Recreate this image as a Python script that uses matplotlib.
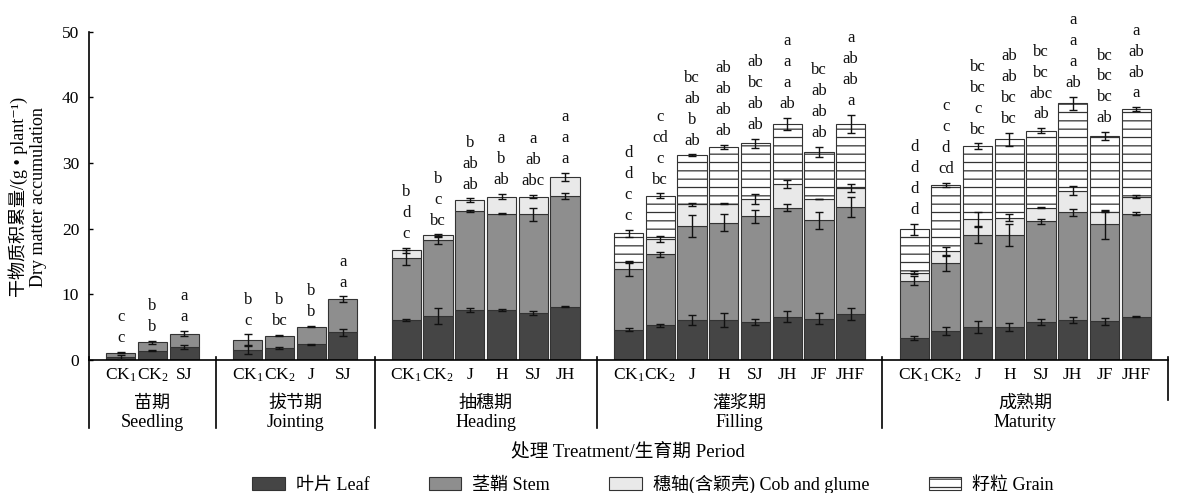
import numpy as np
import matplotlib
matplotlib.use("Agg")
import matplotlib.pyplot as plt
from matplotlib.patches import Patch
import matplotlib.transforms as mtransforms

plt.rcParams['font.family'] = ['Liberation Serif', 'Noto Sans CJK SC', 'DejaVu Sans']
plt.rcParams['mathtext.fontset'] = 'custom'
plt.rcParams['mathtext.rm'] = 'Liberation Serif'
plt.rcParams['mathtext.it'] = 'Liberation Serif:italic'
plt.rcParams['hatch.linewidth'] = 0.9

# ---------------- data ----------------
stage_cn = ['苗期', '拔节期', '抽穗期', '灌浆期', '成熟期']
stage_en = ['Seedling', 'Jointing', 'Heading', 'Filling', 'Maturity']

treat_seedling = ['CK$_1$', 'CK$_2$', 'SJ']
treat_jointing = ['CK$_1$', 'CK$_2$', 'J', 'SJ']
treat_heading = ['CK$_1$', 'CK$_2$', 'J', 'H', 'SJ', 'JH']
treat_filling = ['CK$_1$', 'CK$_2$', 'J', 'H', 'SJ', 'JH', 'JF', 'JHF']
treat_maturity = ['CK$_1$', 'CK$_2$', 'J', 'H', 'SJ', 'JH', 'JF', 'JHF']

# segment values (g/plant): leaf, stem, cob, grain
leaf_seedling = [0.5, 1.4, 2.0]
stem_seedling = [0.6, 1.3, 2.0]
leaf_jointing = [1.5, 1.8, 2.4, 4.2]
stem_jointing = [1.6, 1.9, 2.7, 5.1]
leaf_heading = [6.1, 6.7, 7.6, 7.6, 7.1, 8.1]
stem_heading = [9.5, 11.5, 15.1, 14.7, 15.1, 16.9]
cob_heading = [1.1, 0.8, 1.6, 2.6, 2.7, 2.9]
leaf_filling = [4.6, 5.3, 6.1, 6.1, 5.8, 6.6, 6.3, 7.0]
stem_filling = [9.2, 10.8, 14.3, 14.8, 16.1, 16.6, 15.0, 16.3]
cob_filling = [1.2, 2.3, 3.3, 2.9, 2.6, 3.6, 3.2, 2.9]
grain_filling = [4.3, 6.6, 7.5, 8.7, 8.5, 9.2, 7.2, 9.7]
leaf_maturity = [3.3, 4.4, 5.0, 5.0, 5.8, 6.1, 5.9, 6.6]
stem_maturity = [8.8, 10.3, 14.0, 14.0, 15.3, 16.4, 14.8, 15.7]
cob_maturity = [1.2, 1.9, 2.5, 2.7, 2.1, 3.3, 1.9, 2.6]
grain_maturity = [6.6, 10.1, 11.1, 11.9, 11.7, 13.3, 11.5, 13.3]

# error bars (half length) for each segment
err_leaf_seedling = [0.3, 0.1, 0.3]
err_stem_seedling = [0.1, 0.2, 0.4]
err_leaf_jointing = [0.6, 0.2, 0.05, 0.5]
err_stem_jointing = [0.8, 0.1, 0.15, 0.4]
err_leaf_heading = [0.2, 1.2, 0.3, 0.2, 0.3, 0.05]
err_stem_heading = [1.1, 0.6, 0.15, 0.1, 1.0, 0.5]
err_cob_heading = [0.4, 0.15, 0.3, 0.4, 0.3, 0.6]
err_leaf_filling = [0.2, 0.2, 0.8, 1.0, 0.5, 0.8, 0.8, 0.9]
err_stem_filling = [1.0, 0.4, 1.7, 1.3, 1.0, 0.5, 1.3, 1.5]
err_cob_filling = [0.1, 0.5, 0.2, 0.1, 0.8, 0.6, 0.05, 0.6]
err_grain_filling = [0.5, 0.4, 0.1, 0.3, 0.7, 0.9, 0.8, 1.4]
err_leaf_maturity = [0.3, 0.6, 0.9, 0.6, 0.4, 0.5, 0.5, 0.05]
err_stem_maturity = [0.7, 1.2, 1.2, 1.7, 0.4, 0.5, 2.2, 0.2]
err_cob_maturity = [0.2, 0.6, 1.1, 0.5, 0.1, 0.7, 0.1, 0.3]
err_grain_maturity = [0.8, 0.3, 0.4, 1.0, 0.4, 1.0, 0.6, 0.3]

# significance letters, listed top to bottom
letters_seedling = [['c', 'c'], ['b', 'b'], ['a', 'a']]
letters_jointing = [['b', 'c'], ['b', 'bc'], ['b', 'b'], ['a', 'a']]
letters_heading = [['b', 'd', 'c'], ['b', 'c', 'bc'], ['b', 'ab', 'ab'],
                   ['a', 'b', 'ab'], ['a', 'ab', 'abc'], ['a', 'a', 'a']]
letters_filling = [['d', 'd', 'c', 'c'], ['c', 'cd', 'c', 'bc'], ['bc', 'ab', 'b', 'ab'],
                   ['ab', 'ab', 'ab', 'ab'], ['ab', 'bc', 'ab', 'ab'], ['a', 'a', 'a', 'ab'],
                   ['bc', 'ab', 'ab', 'ab'], ['a', 'ab', 'ab', 'a']]
letters_maturity = [['d', 'd', 'd', 'd'], ['c', 'c', 'd', 'cd'], ['bc', 'bc', 'c', 'bc'],
                    ['ab', 'ab', 'bc', 'bc'], ['bc', 'bc', 'abc', 'ab'], ['a', 'a', 'a', 'ab'],
                    ['bc', 'bc', 'bc', 'ab'], ['a', 'ab', 'ab', 'a']]

legend_labels = ['叶片 Leaf', '茎鞘 Stem', '穗轴(含颖壳) Cob and glume', '籽粒 Grain']

groups = [
    (treat_seedling, [leaf_seedling, stem_seedling], [err_leaf_seedling, err_stem_seedling], letters_seedling),
    (treat_jointing, [leaf_jointing, stem_jointing], [err_leaf_jointing, err_stem_jointing], letters_jointing),
    (treat_heading, [leaf_heading, stem_heading, cob_heading],
     [err_leaf_heading, err_stem_heading, err_cob_heading], letters_heading),
    (treat_filling, [leaf_filling, stem_filling, cob_filling, grain_filling],
     [err_leaf_filling, err_stem_filling, err_cob_filling, err_grain_filling], letters_filling),
    (treat_maturity, [leaf_maturity, stem_maturity, cob_maturity, grain_maturity],
     [err_leaf_maturity, err_stem_maturity, err_cob_maturity, err_grain_maturity], letters_maturity),
]

# ---------------- styles ----------------
seg_face = ['#454545', '#8e8e8e', '#e9e9e9', 'white']
seg_hatch = [None, None, None, '--']
edge = '#333333'
W, H = 1177, 493
fig = plt.figure(figsize=(W / 100, H / 100), dpi=100)
ax = fig.add_axes([89 / W, 1 - 360 / H, (1168 - 89) / W, (360 - 31.7) / H])

tick_pos, tick_lab = [], []
seps = []
centers = []
start = 0
for gi, (treats, segs, errs, lets) in enumerate(groups):
    n = len(treats)
    x = np.arange(start, start + n)
    bottom = np.zeros(n)
    for si, (vals, ev) in enumerate(zip(segs, errs)):
        vals = np.asarray(vals, float)
        ax.bar(x, vals, width=0.92, bottom=bottom, color=seg_face[si], edgecolor=edge,
               linewidth=0.8, hatch=seg_hatch[si], zorder=2)
        top = bottom + vals
        ax.errorbar(x, top, yerr=ev, fmt='none', ecolor='#111111', elinewidth=1.0,
                    capsize=3.2, capthick=1.0, zorder=4)
        bottom = top
    # letters
    toperr = np.asarray(errs[-1], float)
    for xi, b, e, lab in zip(x, bottom, toperr, lets):
        nl = len(lab)
        for k, s in enumerate(lab):
            off = 7 + (nl - 1 - k) * 15.1
            ax.annotate(s, xy=(xi, b + e), xytext=(0, off), textcoords='offset points',
                        ha='center', va='baseline', fontsize=12, color='#111111',
                        annotation_clip=False)
    tick_pos += list(x)
    tick_lab += treats
    centers.append(x.mean())
    if gi < len(groups) - 1:
        seps.append(start + n)
    start += n + 1

ax.set_xlim(-1, start - 1)
ax.set_ylim(0, 50)
ax.set_yticks(np.arange(0, 51, 10))
ax.set_xticks(tick_pos)
ax.set_xticklabels(tick_lab)
ax.tick_params(axis='y', direction='in', length=3, width=1, labelsize=12.5, pad=7)
ax.tick_params(axis='x', direction='in', length=3, width=1.2, labelsize=12.5, pad=5)
for s in ['top', 'right']:
    ax.spines[s].set_visible(False)
ax.spines['left'].set_linewidth(1.2)
ax.spines['bottom'].set_linewidth(1.2)

trans = mtransforms.blended_transform_factory(ax.transData, ax.transAxes)
for sx in [-1] + seps:
    ax.plot([sx, sx], [0.01, -0.207], color='black', lw=1.2, transform=trans, clip_on=False)
ax.plot([start - 1, start - 1], [0.01, -0.122], color='black', lw=1.2, transform=trans, clip_on=False)

for c, cn, en in zip(centers, stage_cn, stage_en):
    ax.text(c, -0.133, cn, transform=trans, ha='center', va='center', fontsize=13)
    ax.text(c, -0.19, en, transform=trans, ha='center', va='center', fontsize=13)

fig.text(18 / W, 1 - 197 / H, '干物质积累量/(g • plant⁻¹)', rotation=90,
         ha='center', va='center', fontsize=13)
fig.text(39 / W, 1 - 197 / H, 'Dry matter accumulation', rotation=90,
         ha='center', va='center', fontsize=13)
fig.text(628 / W, 1 - 452 / H, '处理 Treatment/生育期 Period', ha='center', va='center',
         fontsize=13.5)

handles = [Patch(facecolor=seg_face[i], edgecolor=edge, hatch=seg_hatch[i], linewidth=0.8)
           for i in range(4)]
fig.legend(handles, legend_labels, loc='center', bbox_to_anchor=(653 / W, 1 - 484 / H),
           ncol=4, frameon=False, fontsize=13, handlelength=1.8, handleheight=0.7,
           columnspacing=3.3, handletextpad=0.6, borderaxespad=0, borderpad=0)

fig.savefig('out.png', dpi=100)
